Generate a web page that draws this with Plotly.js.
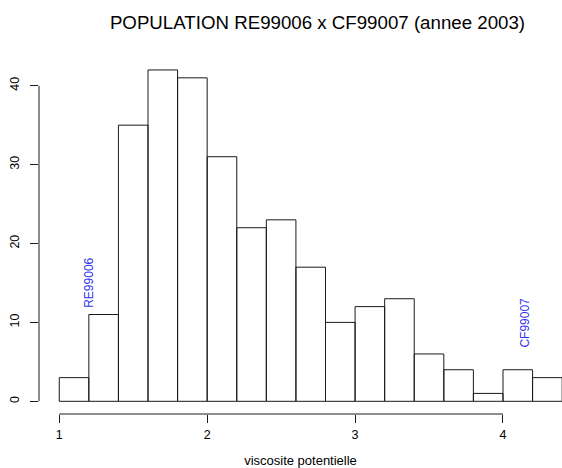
<!DOCTYPE html>
<html>
<head>
<meta charset="utf-8">
<script src="https://cdn.plot.ly/plotly-3.0.1.min.js"></script>
<style>html,body{margin:0;padding:0;background:#fff}#chart{width:562px;height:468px}</style>
</head>
<body>
<div id="chart"></div>
<script>
// Histogram bin edges (viscosite potentielle) and counts
const breaks = [1.0, 1.2, 1.4, 1.6, 1.8, 2.0, 2.2, 2.4, 2.6, 2.8, 3.0, 3.2, 3.4, 3.6, 3.8, 4.0, 4.2, 4.4];
const counts = [3, 11, 35, 42, 41, 31, 22, 23, 17, 10, 12, 13, 6, 4, 1, 4, 3];
const xTicks = [1, 2, 3, 4];
const yTicks = [0, 10, 20, 30, 40];
// Parent labels (name, x value, label height)
const parentNames = ["RE99006", "CF99007"];
const parentX = [1.2, 4.15];
const parentY = [15, 10];

const mids = counts.map((c, i) => (breaks[i] + breaks[i + 1]) / 2);
const widths = counts.map((c, i) => breaks[i + 1] - breaks[i]);

const FONT = "Liberation Sans, Arial, Helvetica, sans-serif";

const trace = {
  type: 'bar',
  x: mids,
  y: counts,
  width: widths,
  marker: {color: 'rgba(255,255,255,0)', line: {color: '#1a1a1a', width: 1}},
  hoverinfo: 'x+y',
  showlegend: false
};

const layout = {
  width: 562, height: 468,
  margin: {l: 39, r: 0, t: 60, b: 54},
  paper_bgcolor: '#ffffff', plot_bgcolor: '#ffffff',
  font: {family: FONT, color: '#000'},
  title: {text: 'POPULATION RE99006 x CF99007 (annee 2003)', font: {size: 18.7, family: FONT, color: '#000'},
          x: 317.5 / 562, xanchor: 'center', xref: 'container', y: 1 - 22 / 468, yanchor: 'middle', yref: 'container'},
  xaxis: {range: [0.863, 4.399], tickvals: xTicks, ticktext: xTicks.map(String), ticks: 'outside', ticklen: 8,
          tickcolor: '#1a1a1a', tickwidth: 1, showline: false, showgrid: false, zeroline: false,
          ticklabelstandoff: 1,
          tickfont: {size: 12.5, family: FONT},
          title: {text: 'viscosite potentielle', font: {size: 13, family: FONT}, standoff: 18}},
  yaxis: {range: [-1.61, 43.26], tickvals: yTicks, ticktext: yTicks.map(String), ticks: 'outside', ticklen: 8,
          tickcolor: '#1a1a1a', tickwidth: 1, tickangle: -90, showline: false, showgrid: false, zeroline: false,
          ticklabelstandoff: 6,
          tickfont: {size: 12.5, family: FONT}},
  shapes: [
    {type: 'line', xref: 'x', yref: 'paper', x0: xTicks[0], x1: xTicks[xTicks.length - 1], y0: 0, y1: 0,
     line: {color: '#1a1a1a', width: 1}},
    {type: 'line', xref: 'paper', yref: 'y', x0: 0, x1: 0, y0: yTicks[0], y1: yTicks[yTicks.length - 1],
     line: {color: '#1a1a1a', width: 1}}
  ],
  annotations: parentNames.map((n, i) => ({
    text: n, x: parentX[i], y: parentY[i], xref: 'x', yref: 'y', showarrow: false, textangle: -90,
    font: {size: 12, family: FONT, color: '#3333ee'}, xanchor: 'center', yanchor: 'middle'
  }))
};

Plotly.newPlot('chart', [trace], layout, {displayModeBar: false, staticPlot: true});
</script>
</body>
</html>
